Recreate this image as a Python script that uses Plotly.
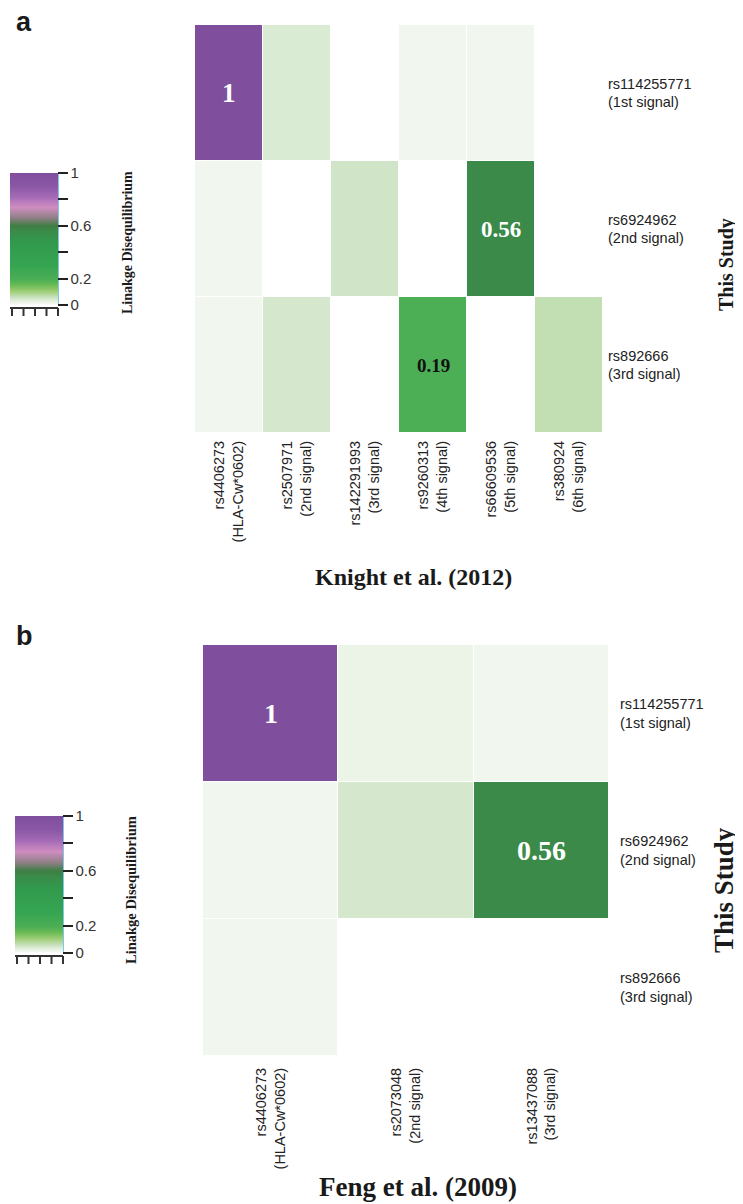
import plotly.graph_objects as go

W, H = 743, 1204

# ---------------- data ----------------
knight_snps = ["rs4406273<br>(HLA-Cw*0602)", "rs2507971<br>(2nd signal)", "rs142291993<br>(3rd signal)",
               "rs9260313<br>(4th signal)", "rs66609536<br>(5th signal)", "rs380924<br>(6th signal)"]
feng_snps = ["rs4406273<br>(HLA-Cw*0602)", "rs2073048<br>(2nd signal)", "rs13437088<br>(3rd signal)"]
study_snps = ["rs114255771<br>(1st signal)", "rs6924962<br>(2nd signal)", "rs892666<br>(3rd signal)"]

# LD (r^2) between this study's signals (rows) and published signals (columns)
knight_ld = [
    [1.00, 0.040, None, 0.010, 0.010, None],
    [0.01, None, 0.050, None, 0.56, None],
    [0.01, 0.045, None, 0.19, None, 0.065],
]
feng_ld = [
    [1.00, 0.020, 0.010],
    [0.01, 0.045, 0.56],
    [0.01, None, None],
]
cbar_tickvals = [0, 0.2, 0.4, 0.6, 0.8, 1]
cbar_ticktext = ["0", "0.2", "", "0.6", "", "1"]

colorscale = [
    [0.00, "#ffffff"], [0.01, "#f1f7ef"], [0.03, "#e4f0df"], [0.06, "#c6e0bb"],
    [0.10, "#a2cf7a"], [0.15, "#6bbb55"], [0.19, "#4cae55"], [0.30, "#35a552"],
    [0.48, "#31994c"], [0.56, "#3b8a4a"], [0.60, "#3f7d44"], [0.66, "#8f7f86"],
    [0.74, "#cf8dc0"], [0.82, "#a46ab6"], [0.90, "#8a57a6"], [1.00, "#7f4f9e"],
]


def px(x):
    return x / W


def py(y):
    return 1 - y / H


def cbar(x0, ytop, ybot):
    return dict(
        x=px(x0), xanchor="left", y=py((ytop + ybot) / 2), yanchor="middle",
        len=(ybot - ytop) / H, lenmode="fraction", thickness=48, thicknessmode="pixels",
        outlinewidth=0, xpad=0, ypad=0, tickmode="array", tickvals=cbar_tickvals,
        ticktext=cbar_ticktext, ticks="outside", ticklen=10, tickwidth=2, tickcolor="#222",
        tickfont=dict(family="Liberation Sans", size=15, color="#333"),
    )


fig = go.Figure()
fig.add_trace(go.Heatmap(
    z=knight_ld, x=knight_snps, y=study_snps, zmin=0, zmax=1, colorscale=colorscale,
    xgap=1, ygap=1, hoverongaps=False, colorbar=cbar(2, 165, 297), xaxis="x", yaxis="y",
))
fig.add_trace(go.Heatmap(
    z=feng_ld, x=feng_snps, y=study_snps, zmin=0, zmax=1, colorscale=colorscale,
    xgap=1, ygap=1, hoverongaps=False, colorbar=cbar(7, 808, 945), xaxis="x2", yaxis="y2",
))

xtickfont = dict(family="Liberation Sans", size=14.5, color="#222")
ytickfont = dict(family="Liberation Sans", size=14.5, color="#222")
fig.update_layout(
    width=W, height=H, autosize=False, margin=dict(l=0, r=0, t=0, b=0),
    paper_bgcolor="white", plot_bgcolor="white", showlegend=False,
    xaxis=dict(domain=[px(187), px(595)], anchor="y", tickangle=-90, ticks="",
               showgrid=False, zeroline=False, showline=False, tickfont=xtickfont,
               ticklabelstandoff=4, fixedrange=True),
    yaxis=dict(domain=[py(425), py(17)], anchor="x", side="right", autorange="reversed",
               ticks="", showgrid=False, zeroline=False, showline=False, tickfont=ytickfont,
               ticklabelstandoff=4),
    xaxis2=dict(domain=[px(195), px(601)], anchor="y2", tickangle=-90, ticks="",
                showgrid=False, zeroline=False, showline=False, tickfont=xtickfont,
                ticklabelstandoff=8),
    yaxis2=dict(domain=[py(1048), py(637)], anchor="x2", side="right", autorange="reversed",
                ticks="", showgrid=False, zeroline=False, showline=False, tickfont=ytickfont,
                ticklabelstandoff=10),
)

ann = []
# cell value labels (from data)
for (ld, cols, xr, yr, big) in [(knight_ld, knight_snps, "x", "y", False),
                                (feng_ld, feng_snps, "x2", "y2", True)]:
    for i, row in enumerate(ld):
        for j, v in enumerate(row):
            if v is not None and v >= 0.15:
                txt = "1" if v == 1 else f"{v:.2f}"
                color = "white" if v > 0.3 else "#111"
                size = (28 if big else (27 if v == 1 else (23 if v > 0.3 else 19)))
                ann.append(dict(x=cols[j], y=study_snps[i], xref=xr, yref=yr, text=f"<b>{txt}</b>",
                                showarrow=False, xanchor="center", yanchor="middle",
                                font=dict(family="Liberation Serif", size=size, color=color)))

serif = "Liberation Serif"


def label(x, y, text, size, family=serif, angle=0):
    return dict(x=px(x), y=py(y), xref="paper", yref="paper", text=text, showarrow=False,
                xanchor="center", yanchor="middle", textangle=angle,
                font=dict(family=family, size=size, color="#1a1a1a"))


ann += [
    label(16, 14, "<b>a</b>", 27, "Liberation Sans"),
    label(16, 628, "<b>b</b>", 27, "Liberation Sans"),
    label(406, 569, "<b>Knight et al. (2012)</b>", 24),
    label(410, 1179, "<b>Feng et al. (2009)</b>", 27),
    label(718, 257, "<b>This Study</b>", 20, angle=-90),
    label(716, 882, "<b>This Study</b>", 27, angle=-90),
    label(119, 235, "<b>Linakge Disequilibrium</b>", 14, angle=-90),
    label(123, 882, "<b>Linakge Disequilibrium</b>", 14.5, angle=-90),
]
fig.update_layout(annotations=ann)

shapes = []
for (x0, x1, ytop, ybot) in [(2, 50, 165, 297), (7, 55, 808, 945)]:
    shapes.append(dict(type="line", xref="paper", yref="paper", x0=px(x1), x1=px(x1),
                       y0=py(ytop), y1=py(ybot), line=dict(color="#7cc8e8", width=2)))
    yb = ybot + 3
    shapes.append(dict(type="line", xref="paper", yref="paper", x0=px(x0), x1=px(x1),
                       y0=py(yb), y1=py(yb), line=dict(color="#333", width=2)))
    for k in range(5):
        xt = x0 + 2 + k * (x1 - x0 - 2) / 4
        shapes.append(dict(type="line", xref="paper", yref="paper", x0=px(xt), x1=px(xt),
                           y0=py(yb), y1=py(yb + 8), line=dict(color="#333", width=2)))
fig.update_layout(shapes=shapes)

fig.write_html("out.html")
